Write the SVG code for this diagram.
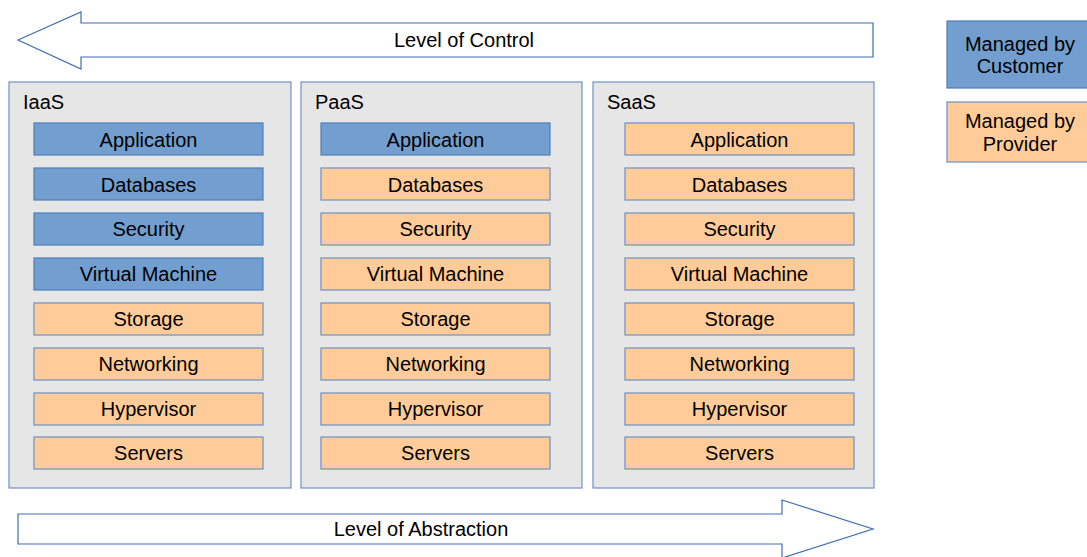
<svg xmlns="http://www.w3.org/2000/svg" width="1087" height="557" viewBox="0 0 1087 557">
  <style>
    text { font-family: "Liberation Sans", Arial, sans-serif; font-size: 20px; fill: #000; }
    .c { text-anchor: middle; }
    .arrow { fill: #fff; stroke: #3c6eb4; stroke-width: 1.2; }
    .panel { fill: #e6e6e6; stroke: #6d93c8; stroke-width: 1.2; }
    .cust { fill: #729fcf; stroke: #4f7fb8; stroke-width: 1.2; }
    .prov { fill: #ffcc99; stroke: #6d8fc0; stroke-width: 1.2; }
  </style>

  <g id="connectors">
    <g id="control-arrow">
      <polygon class="arrow" points="18,40 81,12 81,23 873,23 873,57 81,57 81,69"/>
      <text class="c" x="464" y="47">Level of Control</text>
    </g>
    <g id="abstraction-arrow">
      <polygon class="arrow" points="18,514 782,514 782,500 873,529 782,558 782,544 18,544"/>
      <text class="c" x="421" y="536">Level of Abstraction</text>
    </g>
  </g>

  <g id="iaas">
    <rect class="panel" x="9" y="82" width="282" height="406"/>
    <text x="23" y="109">IaaS</text>
    <rect class="cust" x="34" y="123" width="229" height="32"/><text class="c" x="148.5" y="147">Application</text>
    <rect class="cust" x="34" y="168" width="229" height="32"/><text class="c" x="148.5" y="192">Databases</text>
    <rect class="cust" x="34" y="213" width="229" height="32"/><text class="c" x="148.5" y="236">Security</text>
    <rect class="cust" x="34" y="258" width="229" height="32"/><text class="c" x="148.5" y="281">Virtual Machine</text>
    <rect class="prov" x="34" y="303" width="229" height="32"/><text class="c" x="148.5" y="326">Storage</text>
    <rect class="prov" x="34" y="348" width="229" height="32"/><text class="c" x="148.5" y="371">Networking</text>
    <rect class="prov" x="34" y="393" width="229" height="32"/><text class="c" x="148.5" y="416">Hypervisor</text>
    <rect class="prov" x="34" y="437" width="229" height="32"/><text class="c" x="148.5" y="460">Servers</text>
  </g>

  <g id="paas">
    <rect class="panel" x="301" y="82" width="281" height="406"/>
    <text x="315" y="109">PaaS</text>
    <rect class="cust" x="321" y="123" width="229" height="32"/><text class="c" x="435.5" y="147">Application</text>
    <rect class="prov" x="321" y="168" width="229" height="32"/><text class="c" x="435.5" y="192">Databases</text>
    <rect class="prov" x="321" y="213" width="229" height="32"/><text class="c" x="435.5" y="236">Security</text>
    <rect class="prov" x="321" y="258" width="229" height="32"/><text class="c" x="435.5" y="281">Virtual Machine</text>
    <rect class="prov" x="321" y="303" width="229" height="32"/><text class="c" x="435.5" y="326">Storage</text>
    <rect class="prov" x="321" y="348" width="229" height="32"/><text class="c" x="435.5" y="371">Networking</text>
    <rect class="prov" x="321" y="393" width="229" height="32"/><text class="c" x="435.5" y="416">Hypervisor</text>
    <rect class="prov" x="321" y="437" width="229" height="32"/><text class="c" x="435.5" y="460">Servers</text>
  </g>

  <g id="saas">
    <rect class="panel" x="593" y="82" width="281" height="406"/>
    <text x="607" y="109">SaaS</text>
    <rect class="prov" x="625" y="123" width="229" height="32"/><text class="c" x="739.5" y="147">Application</text>
    <rect class="prov" x="625" y="168" width="229" height="32"/><text class="c" x="739.5" y="192">Databases</text>
    <rect class="prov" x="625" y="213" width="229" height="32"/><text class="c" x="739.5" y="236">Security</text>
    <rect class="prov" x="625" y="258" width="229" height="32"/><text class="c" x="739.5" y="281">Virtual Machine</text>
    <rect class="prov" x="625" y="303" width="229" height="32"/><text class="c" x="739.5" y="326">Storage</text>
    <rect class="prov" x="625" y="348" width="229" height="32"/><text class="c" x="739.5" y="371">Networking</text>
    <rect class="prov" x="625" y="393" width="229" height="32"/><text class="c" x="739.5" y="416">Hypervisor</text>
    <rect class="prov" x="625" y="437" width="229" height="32"/><text class="c" x="739.5" y="460">Servers</text>
  </g>

  <g id="legend-customer">
    <rect class="cust" x="947" y="21" width="150" height="67"/>
    <text class="c" x="1020" y="51">Managed by</text>
    <text class="c" x="1020" y="73">Customer</text>
  </g>
  <g id="legend-provider">
    <rect class="prov" x="947" y="102" width="150" height="60"/>
    <text class="c" x="1020" y="128">Managed by</text>
    <text class="c" x="1020" y="151">Provider</text>
  </g>
</svg>
